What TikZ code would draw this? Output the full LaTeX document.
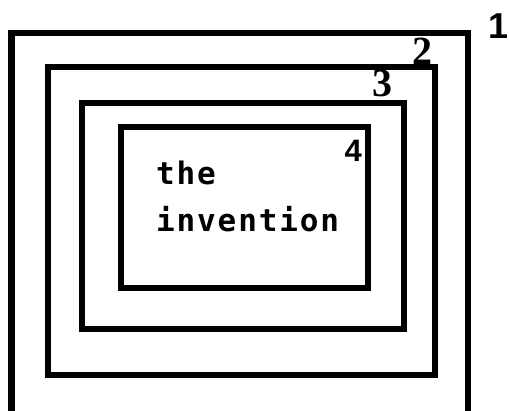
\documentclass[tikz,border=0pt]{standalone}
\usepackage{fontspec}
\setmainfont{Liberation Sans}
\newfontfamily\monob[LetterSpace=6]{DejaVu Sans Mono Bold}
\newfontfamily\serifb{Liberation Serif}
\tikzset{
  frame/.style={draw=black, line width=6pt},
  digitsans/.style={font=\fontsize{36}{36}\selectfont\bfseries, inner sep=0pt},
  digitserif/.style={font=\fontsize{40}{40}\serifb\bfseries, inner sep=0pt},
  digitsmall/.style={font=\fontsize{31}{31}\selectfont\bfseries, inner sep=0pt},
  bodytext/.style={font=\fontsize{31}{31}\monob, inner sep=0pt, anchor=base west},
}
\begin{document}
\begin{tikzpicture}[x=1pt,y=-1pt]
\useasboundingbox (0,0) rectangle (509,411);
\clip (0,0) rectangle (509,411);
\fill[white] (0,0) rectangle (509,411);
\draw[frame, line width=6.7pt] (11.5,33) rectangle (468,414);
\draw[frame] (48,67.5) rectangle (435,374.7);
\draw[frame] (82,103) rectangle (404.3,329);
\draw[frame] (121,127) rectangle (368,288);
\node[digitsans, anchor=base east] (n1) at (509,39) {1};
\node[digitserif, anchor=south] (n2) at (422.5,65) {2};
\node[digitserif, anchor=south] (n3) at (382.5,97) {3};
\node[digitsmall, anchor=south east] (n4) at (362,162) {4};
\node[bodytext] (t1) at (156,185) {the};
\node[bodytext] (t2) at (156,232) {invention};
\end{tikzpicture}
\end{document}
